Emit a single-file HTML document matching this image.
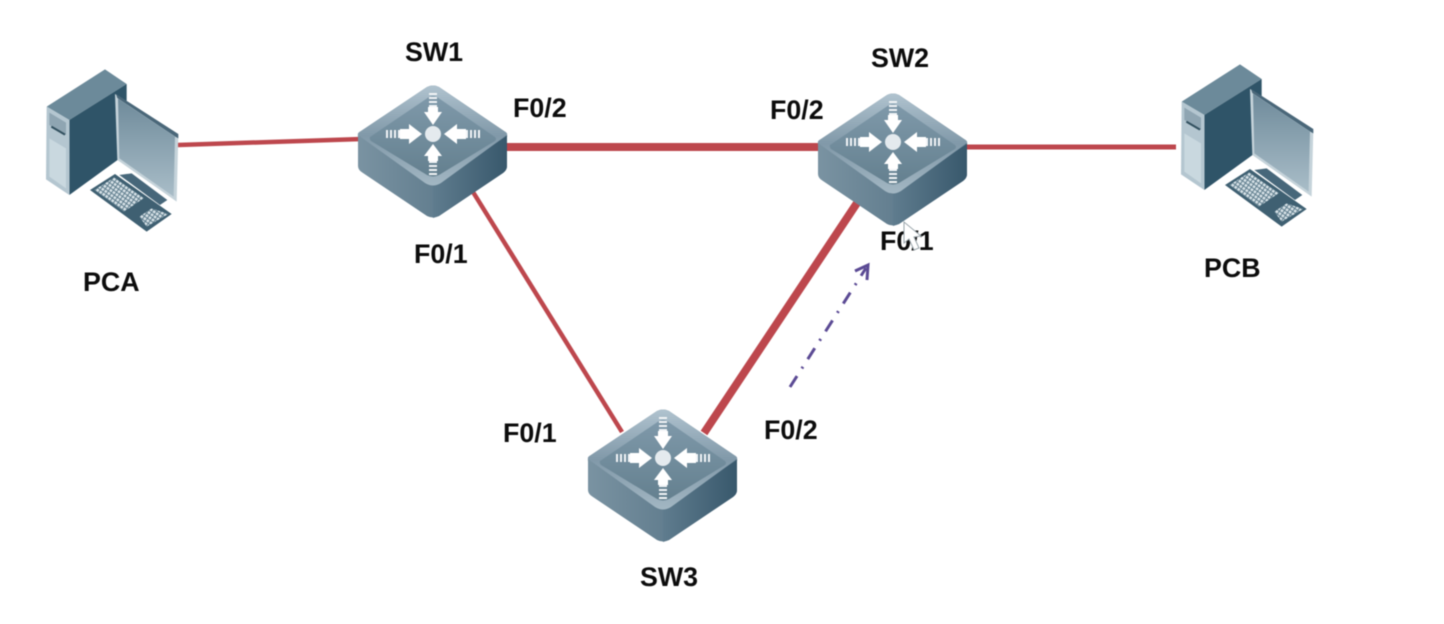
<!DOCTYPE html>
<html>
<head>
<meta charset="utf-8">
<style>
html,body{margin:0;padding:0;background:#fff;width:1444px;height:624px;overflow:hidden}
svg{display:block;filter:blur(.55px)}
text{font-family:"Liberation Sans",Arial,sans-serif;font-weight:bold;font-size:26.8px;fill:#0c0c0c}
</style>
</head>
<body>
<svg width="1444" height="624" viewBox="0 0 1444 624" xmlns="http://www.w3.org/2000/svg">
<defs>
<linearGradient id="top" x1="0" y1="0" x2="0" y2="1">
<stop offset="0" stop-color="#b0c3cf"/><stop offset=".5" stop-color="#8199a9"/><stop offset="1" stop-color="#a3b7c3"/>
</linearGradient>
<linearGradient id="inner" x1="0" y1="0" x2="0" y2="1">
<stop offset="0" stop-color="#7f99aa"/><stop offset="1" stop-color="#64808f"/>
</linearGradient>
<linearGradient id="sideL" x1="0" y1="0" x2="1" y2="0">
<stop offset="0" stop-color="#7a93a2"/><stop offset="1" stop-color="#4d6b7e"/>
</linearGradient>
<linearGradient id="sideR" x1="0" y1="0" x2="1" y2="0">
<stop offset="0" stop-color="#5f7c8e"/><stop offset="1" stop-color="#38586c"/>
</linearGradient>
<linearGradient id="mon" x1="0" y1="0" x2="0" y2="1">
<stop offset="0" stop-color="#6f8b9b"/><stop offset="1" stop-color="#a9bdc8"/>
</linearGradient>
<pattern id="keys" width="11" height="11" patternUnits="userSpaceOnUse" patternTransform="rotate(35)">
<rect width="11" height="11" fill="#5f7d8d"/>
<rect x="1.5" y="1.5" width="8" height="8" fill="#d7e2e7"/>
</pattern>
<g id="sw">
<path d="M-75,3 Q-76,0 -72,-3 L-6,-47 Q0,-50 6,-47 L71,-3 Q75,0 74,3 L74,32 Q74,36 70,39 L6,82 Q0,85 -6,82 L-70,39 Q-75,36 -75,32 Z" fill="url(#sideL)"/>
<path d="M0,84 L6,82 L70,39 Q74,36 74,32 L74,2 L0,50 Z" fill="url(#sideR)"/>
<path d="M-75,1 Q-76,-1 -72,-3 L-6,-47 Q0,-50 6,-47 L71,-3 Q75,-1 74,1 L8,49 Q0,54 -8,49 Z" fill="url(#top)"/>
<path d="M-63,3 L-4,-37 Q0,-39 4,-37 L62,3 Q64,5 62,7 L6,41 Q0,44 -6,41 L-62,7 Q-64,5 -63,3 Z" fill="url(#inner)"/>
<g fill="#fff">
<circle cx="0" cy="0" r="8" fill="#e4eaee"/>
<path d="M-33,-5 L-24,-5 L-24,-10 L-11,0 L-24,10 L-24,5 L-33,5 Z"/>
<path d="M33,-5 L24,-5 L24,-10 L11,0 L24,10 L24,5 L33,5 Z"/>
<path d="M-5,-22 L-9,-22 L0,-9 L9,-22 L5,-22 L5,-27 L-5,-27 Z"/>
<path d="M-5,22 L-9,22 L0,10 L9,22 L5,22 L5,27 L-5,27 Z"/>
</g>
<g stroke="#f1f4f6" stroke-width="2" fill="none">
<path d="M-4,-40 H4 M-4,-36 H4 M-4,-32 H4 M-4,-28 H4"/>
<path d="M-4,28 H4 M-4,32 H4 M-4,36 H4 M-4,40 H4"/>
<path d="M-46,-4 V4 M-42,-4 V4 M-38,-4 V4 M-34,-4 V4"/>
<path d="M34,-4 V4 M38,-4 V4 M42,-4 V4 M46,-4 V4"/>
</g>
</g>
<g id="pc">
<path d="M50,140 L225,28 L290,72 L118,180 Z" fill="#6c8a9a"/>
<path d="M118,180 L290,72 L290,280 L118,405 Z" fill="#2f5468"/>
<path d="M50,140 L118,180 L118,405 L48,358 Z" fill="#b4c6d0"/>
<path d="M58,158 L108,188 L108,225 L58,195 Z" fill="#8fa5b2"/>
<path d="M64,200 L105,224" stroke="#32505f" stroke-width="6"/>
<path d="M58,235 L108,265 L108,385 L58,350 Z" fill="#c9d8df"/>
<path d="M255,102 L445,225 L440,425 L262,300 Z" fill="#c5d3da"/>
<path d="M264,116 L435,230 L431,410 L268,295 Z" fill="url(#mon)"/>
<path d="M258,102 L445,222 L445,235 L436,230 L262,114 Z" fill="#4a6779"/>
<path d="M268,345 L305,340 L412,420 L390,435 Z" fill="#47677a"/>
<path d="M180,390 L255,342 L425,462 L350,515 Z" fill="#3f6072"/>
<path d="M193,390 L253,352 L342,414 L282,455 Z" fill="url(#keys)"/>
<path d="M328,470 L365,445 L415,462 L350,500 Z" fill="url(#keys)"/>
</g>
</defs>

<g stroke="#bd474d" fill="none">
<line x1="178" y1="145" x2="362" y2="139" stroke-width="4.5"/>
<line x1="504" y1="147" x2="822" y2="147" stroke-width="8"/>
<line x1="964" y1="147" x2="1176" y2="147" stroke-width="5"/>
<line x1="473" y1="192" x2="622" y2="432" stroke-width="4.5"/>
<line x1="704" y1="433" x2="857" y2="203" stroke-width="8"/>
</g>

<use href="#pc" transform="translate(30,60) scale(.3333)"/>
<use href="#pc" transform="translate(1165,55) scale(.3333)"/>
<use href="#sw" x="433" y="134"/>
<use href="#sw" x="893" y="142"/>
<use href="#sw" x="663" y="458"/>

<g stroke="#5b4a94" fill="none" stroke-width="3">
<line x1="790" y1="387" x2="866" y2="268" stroke-dasharray="13 9 2 9"/>
<path d="M855,271 L868,265 L867,280" stroke-width="3"/>
</g>

<text x="405" y="61">SW1</text>
<text x="871" y="67">SW2</text>
<text x="640" y="586">SW3</text>
<text x="83" y="291">PCA</text>
<text x="1204" y="277">PCB</text>
<text x="513" y="117">F0/2</text>
<text x="770" y="119">F0/2</text>
<text x="414" y="263">F0/1</text>
<text x="880" y="250">F0/1</text>
<text x="503" y="442">F0/1</text>
<text x="764" y="439">F0/2</text>

<path d="M904,222 L904,243 L909,239 L914,250 L919,248 L914,237 L921,236 Z" fill="#fff" stroke="#9aa5ab" stroke-width="1"/>
</svg>
</body>
</html>
